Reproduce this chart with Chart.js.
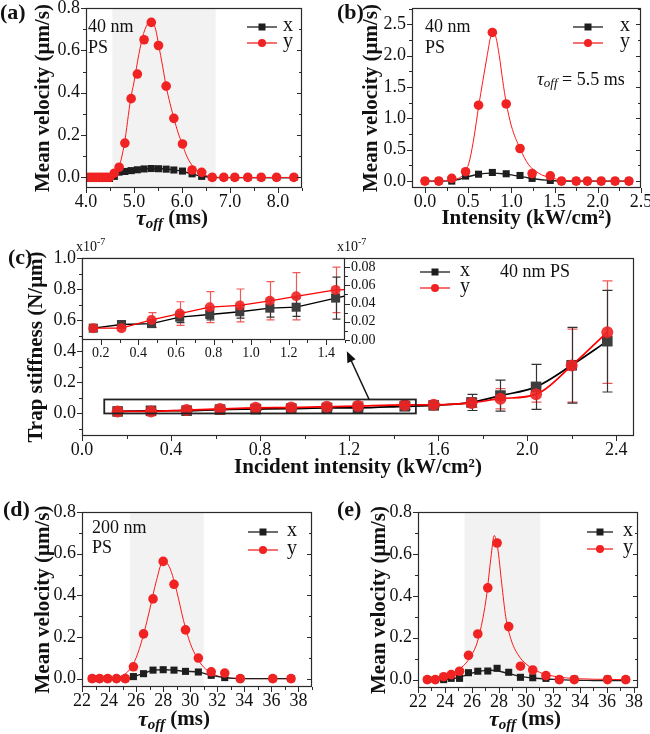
<!DOCTYPE html>
<html>
<head>
<meta charset="utf-8">
<title>Mean velocity and trap stiffness</title>
<script src="https://cdn.jsdelivr.net/npm/chart.js@4.4.1/dist/chart.umd.min.js"></script>
<style>
  html, body { margin: 0; padding: 0; background: #fff; }
  #fig { position: relative; width: 650px; height: 734px; overflow: hidden; background: #fff; }
  #fig canvas { position: absolute; }
</style>
</head>
<body>
<div id="fig">
  <canvas id="cA" width="325" height="232" style="left:0;top:0"></canvas>
  <canvas id="cB" width="325" height="232" style="left:325px;top:0"></canvas>
  <canvas id="cC" width="650" height="244" style="left:0;top:236px"></canvas>
  <canvas id="cI" width="350" height="137" style="left:40px;top:232px"></canvas>
  <canvas id="cD" width="325" height="239" style="left:0;top:495px"></canvas>
  <canvas id="cE" width="325" height="239" style="left:325px;top:495px"></canvas>
</div>
<script>
const SERIF = '"Liberation Serif", "Times New Roman", serif';
const font = (size, style) => (style ? style + ' ' : '') + size + 'px ' + SERIF;

const RED = 'rgb(240, 34, 34)';
const RED_FIT = 'rgb(255, 24, 24)';
const BLK = '#1e1e1e';
const AXIS = '#2a2a2a';
const BAND = '#f2f2f2';
const seriesNames = ['x', 'y'];

// (a) 40 nm PS, mean velocity vs tau_off
const aTau = [4.00, 4.07, 4.14, 4.21, 4.28, 4.35, 4.42, 4.49, 4.59, 4.69, 4.81, 4.94, 5.07, 5.21, 5.36, 5.51, 5.67, 5.83, 6.01, 6.21, 6.41, 6.63, 6.87, 7.10, 7.37, 7.65, 7.97, 8.33];
const aVx = [-0.005, -0.005, -0.005, -0.005, -0.005, -0.005, -0.005, -0.005, 0.005, 0.025, 0.028, 0.032, 0.036, 0.040, 0.042, 0.041, 0.039, 0.035, 0.030, 0.017, 0.005, 0, 0, 0, 0, 0, 0, 0];
const aVy = [0, 0, 0, 0, 0, 0, 0, 0, 0.020, 0.048, 0.162, 0.372, 0.488, 0.650, 0.732, 0.623, 0.431, 0.279, 0.158, 0.035, 0.024, 0, 0, 0, 0, 0, 0, 0];
const aFitXTau = [4.00, 4.50, 4.57, 4.65, 4.75, 4.90, 5.10, 5.30, 5.50, 5.70, 5.90, 6.10, 6.30, 6.50, 6.70, 8.33];
const aFitX = [-0.005, -0.005, 0, 0.012, 0.022, 0.030, 0.037, 0.041, 0.042, 0.039, 0.033, 0.023, 0.011, 0.003, -0.001, -0.002];
const aFitYTau = [4.00, 4.50, 4.60, 4.69, 4.80, 4.93, 5.00, 5.10, 5.20, 5.30, 5.36, 5.45, 5.51, 5.60, 5.67, 5.75, 5.83, 5.92, 6.01, 6.10, 6.20, 6.30, 6.45, 6.60, 6.80, 8.33];
const aFitY = [0, 0.001, 0.015, 0.050, 0.160, 0.370, 0.450, 0.580, 0.680, 0.730, 0.737, 0.700, 0.630, 0.520, 0.430, 0.350, 0.280, 0.210, 0.155, 0.100, 0.060, 0.035, 0.013, 0.004, 0, 0];
const aBand = [4.55, 6.70];
const aXTicks = [4, 5, 6, 7, 8];
const aYTicks = [0, 0.2, 0.4, 0.6, 0.8];

// (b) 40 nm PS, mean velocity vs intensity
const bInt = [0.00, 0.16, 0.31, 0.47, 0.62, 0.78, 0.94, 1.10, 1.24, 1.45, 1.58, 1.75, 1.88, 2.04, 2.20, 2.36];
const bVx = [0, 0, 0, 0.080, 0.110, 0.138, 0.117, 0.090, 0.043, 0.010, 0, 0, 0, 0, 0, 0];
const bVy = [0, 0, 0.043, 0.150, 1.210, 2.370, 1.230, 0.520, 0.120, 0.085, 0, 0, 0, 0, 0, 0];
const bFitXInt = [0.00, 0.30, 0.40, 0.50, 0.60, 0.70, 0.80, 0.90, 1.00, 1.10, 1.20, 1.30, 1.40, 1.50, 1.60, 2.36];
const bFitX = [0, 0.003, 0.030, 0.070, 0.105, 0.123, 0.127, 0.118, 0.100, 0.075, 0.050, 0.030, 0.015, 0.005, 0, 0];
const bFitYInt = [0.00, 0.20, 0.35, 0.42, 0.47, 0.52, 0.57, 0.62, 0.67, 0.72, 0.76, 0.79, 0.82, 0.86, 0.90, 0.94, 1.00, 1.10, 1.20, 1.27, 1.35, 1.45, 1.60, 1.80, 2.36];
const bFitY = [0, 0.003, 0.030, 0.070, 0.150, 0.350, 0.720, 1.180, 1.600, 2.000, 2.300, 2.380, 2.300, 2.000, 1.600, 1.250, 0.880, 0.520, 0.260, 0.170, 0.100, 0.055, 0.015, 0.002, 0];
const bXTicks = [0, 0.5, 1.0, 1.5, 2.0, 2.5];
const bYTicks = [0, 0.5, 1.0, 1.5, 2.0, 2.5];

// (c) trap stiffness (x10^-7 N/um) vs incident intensity
const cInt = [0.16, 0.31, 0.47, 0.62, 0.78, 0.94, 1.10, 1.24, 1.45, 1.58, 1.75, 1.88, 2.04, 2.20, 2.36];
const cKx = [0.013, 0.017, 0.018, 0.025, 0.028, 0.031, 0.035, 0.036, 0.046, 0.052, 0.071, 0.115, 0.171, 0.310, 0.465];
const cKy = [0.013, 0.013, 0.022, 0.029, 0.036, 0.038, 0.043, 0.048, 0.055, 0.056, 0.068, 0.095, 0.123, 0.308, 0.523];
const cErrX = [0.002, 0.003, 0.004, 0.006, 0.006, 0.007, 0.010, 0.010, 0.023, 0.010, 0.052, 0.100, 0.145, 0.244, 0.327];
const cErrY = [0.002, 0.003, 0.008, 0.013, 0.017, 0.018, 0.021, 0.026, 0.025, 0.010, 0.027, 0.065, 0.050, 0.235, 0.330];
const cXTicks = [0, 0.4, 0.8, 1.2, 1.6, 2.0, 2.4];
const cYTicks = [0, 0.2, 0.4, 0.6, 0.8, 1.0];
const insetXTicks = [0.2, 0.4, 0.6, 0.8, 1.0, 1.2, 1.4];
const insetYTicks = [0, 0.02, 0.04, 0.06, 0.08];

// (d) 200 nm PS, mean velocity vs tau_off
const dTau = [22.75, 23.30, 23.90, 24.55, 25.20, 25.80, 26.55, 27.25, 28.00, 28.80, 29.65, 30.60, 31.55, 32.55, 33.70, 36.10, 37.45];
const dVx = [0, 0, 0, 0, 0, 0.010, 0.024, 0.041, 0.043, 0.041, 0.035, 0.032, 0.016, 0.005, 0, 0, 0];
const dVy = [0, 0, 0, 0, 0, 0.057, 0.215, 0.383, 0.563, 0.453, 0.234, 0.099, 0.033, 0.027, 0, 0, 0];
const dFitYTau = [22.75, 24.00, 24.50, 25.00, 25.50, 26.00, 26.50, 27.00, 27.50, 28.00, 28.50, 29.00, 29.50, 30.00, 30.50, 31.00, 31.50, 32.00, 32.50, 33.50, 35.00, 37.45];
const dFitY = [0, 0.001, 0.004, 0.015, 0.042, 0.100, 0.200, 0.330, 0.470, 0.565, 0.530, 0.420, 0.280, 0.170, 0.100, 0.055, 0.030, 0.014, 0.006, 0.001, 0, 0];
const dBand = [25.55, 31.00];

// (e) mean velocity vs tau_off
const eTau = [22.69, 23.28, 23.90, 24.46, 25.08, 25.74, 26.43, 27.17, 27.86, 28.72, 29.59, 30.50, 31.48, 32.47, 33.58, 36.04, 37.39];
const eVx = [0, 0, 0, 0.006, 0.006, 0.033, 0.040, 0.041, 0.054, 0.035, 0.011, 0.009, 0.006, 0, 0.002, 0.002, 0];
const eVy = [0, 0, 0.014, 0.024, 0.040, 0.116, 0.218, 0.438, 0.652, 0.253, 0.064, 0.046, 0.019, 0, 0, 0, 0];
const eFitXTau = [22.69, 23.50, 24.50, 25.00, 25.50, 26.00, 26.50, 27.00, 27.40, 27.90, 28.40, 28.80, 29.30, 29.80, 30.50, 31.50, 32.50, 33.50, 35.00, 37.39];
const eFitX = [0, -0.001, 0.004, 0.010, 0.020, 0.031, 0.039, 0.044, 0.045, 0.042, 0.034, 0.027, 0.019, 0.013, 0.008, 0.003, 0, -0.003, -0.004, -0.005];
const eFitYTau = [22.69, 23.00, 23.50, 24.00, 24.50, 25.00, 25.50, 26.00, 26.40, 26.80, 27.10, 27.40, 27.65, 27.90, 28.20, 28.50, 28.90, 29.40, 30.00, 31.00, 32.00, 33.00, 35.00, 37.39];
const eFitY = [0.003, 0.005, 0.010, 0.018, 0.030, 0.048, 0.075, 0.120, 0.180, 0.290, 0.410, 0.580, 0.688, 0.630, 0.460, 0.300, 0.190, 0.120, 0.075, 0.035, 0.017, 0.008, 0.002, 0];
const eBand = [25.45, 31.05];
const tauTicks = [22, 24, 26, 28, 30, 32, 34, 36, 38];
const velTicks = [0, 0.2, 0.4, 0.6, 0.8];

Chart.defaults.font.family = SERIF;
Chart.defaults.color = '#111';

const TICK_FS = 18;
const TITLE_FS = 21;

const xy = (xs, ys) => xs.map((x, i) => ({ x: x, y: ys[i] }));

// major ticks in range plus half-step minors
function tickSet(majors, lo, hi) {
  const step = majors[1] - majors[0];
  const minor = [];
  for (let v = majors[0] - step / 2; v <= hi + 1e-9; v += step) {
    if (v >= lo - 1e-9) minor.push(v);
  }
  return { major: majors.filter(v => v >= lo - 1e-9 && v <= hi + 1e-9), minor: minor };
}

function drawRich(ctx, parts, x, y, align) {
  let w = 0;
  parts.forEach(p => { ctx.font = p[1]; w += ctx.measureText(p[0]).width; });
  let cx = align === 'center' ? x - w / 2 : (align === 'right' ? x - w : x);
  ctx.textAlign = 'left';
  ctx.textBaseline = 'middle';
  parts.forEach(p => {
    ctx.font = p[1];
    ctx.fillText(p[0], cx, y + (p[2] || 0));
    cx += ctx.measureText(p[0]).width;
  });
}

const decor = {
  id: 'decor',
  beforeDatasetsDraw(chart, args, o) {
    const { ctx, chartArea: ca, scales: { x, y } } = chart;
    ctx.save();
    if (o.fill) {
      ctx.fillStyle = o.fill;
      ctx.fillRect(ca.left, ca.top, ca.width, ca.height);
    }
    if (o.band) {
      const x0 = x.getPixelForValue(o.band[0]);
      const x1 = x.getPixelForValue(o.band[1]);
      ctx.fillStyle = BAND;
      ctx.fillRect(x0, ca.top, x1 - x0, ca.height);
    }
    ctx.beginPath();
    ctx.rect(ca.left, ca.top, ca.width, ca.height);
    ctx.clip();
    chart.data.datasets.forEach((ds, i) => {
      if (!ds.errors) return;
      const meta = chart.getDatasetMeta(i);
      ctx.strokeStyle = ds.errColor;
      ctx.lineWidth = 1.2;
      meta.data.forEach((pt, j) => {
        const v = ds.data[j].y, e = ds.errors[j];
        const yt = y.getPixelForValue(v + e), yb = y.getPixelForValue(v - e);
        const px = Math.round(pt.x) + 0.5;
        ctx.beginPath();
        ctx.moveTo(px, yt); ctx.lineTo(px, yb);
        ctx.moveTo(px - o.cap, yt); ctx.lineTo(px + o.cap, yt);
        ctx.moveTo(px - o.cap, yb); ctx.lineTo(px + o.cap, yb);
        ctx.stroke();
      });
    });
    ctx.restore();
  },
  afterDatasetsDraw(chart, args, o) {
    const { ctx, chartArea: ca, scales: { x, y } } = chart;
    ctx.save();
    ctx.strokeStyle = AXIS;
    ctx.lineWidth = 1;
    const tx = tickSet(o.xTicks, x.min, x.max);
    const ty = tickSet(o.yTicks, y.min, y.max);
    const hMarks = (vals, y0, len) => vals.forEach(v => {
      const p = Math.round(x.getPixelForValue(v)) + 0.5;
      ctx.beginPath(); ctx.moveTo(p, y0); ctx.lineTo(p, y0 + len); ctx.stroke();
    });
    const vMarks = (vals, x0, len) => vals.forEach(v => {
      const p = Math.round(y.getPixelForValue(v)) + 0.5;
      ctx.beginPath(); ctx.moveTo(x0, p); ctx.lineTo(x0 + len, p); ctx.stroke();
    });
    hMarks(tx.major, ca.bottom, 5); hMarks(tx.minor, ca.bottom, 3);
    if (o.ySide === 'right') { vMarks(ty.major, ca.right, 5); vMarks(ty.minor, ca.right, 3); }
    else { vMarks(ty.major, ca.left, -5); vMarks(ty.minor, ca.left, -3); }
    if (o.rightIn) { vMarks(ty.major, ca.right, -5); vMarks(ty.minor, ca.right, -3); }
    ctx.lineWidth = 1.2;
    ctx.strokeRect(ca.left + 0.5, ca.top + 0.5, ca.width - 1, ca.height - 1);

    if (o.box) {
      const b = o.box;
      const x0 = x.getPixelForValue(b[0]), x1 = x.getPixelForValue(b[1]);
      const y0 = y.getPixelForValue(b[2]), y1 = y.getPixelForValue(b[3]);
      ctx.lineWidth = 1.8;
      ctx.strokeStyle = '#222';
      ctx.strokeRect(x0, y1, x1 - x0, y0 - y1);
    }
    if (o.arrow) {
      const a = o.arrow;
      const fx = x.getPixelForValue(a[0]), fy = y.getPixelForValue(a[1]);
      const ex = x.getPixelForValue(a[2]), ey = y.getPixelForValue(a[3]);
      const ang = Math.atan2(ey - fy, ex - fx);
      ctx.strokeStyle = '#111';
      ctx.fillStyle = '#111';
      ctx.lineWidth = 1.5;
      ctx.beginPath(); ctx.moveTo(fx, fy);
      ctx.lineTo(ex - 8 * Math.cos(ang), ey - 8 * Math.sin(ang)); ctx.stroke();
      ctx.beginPath();
      ctx.moveTo(ex, ey);
      ctx.lineTo(ex - 11 * Math.cos(ang) + 4.5 * Math.sin(ang), ey - 11 * Math.sin(ang) - 4.5 * Math.cos(ang));
      ctx.lineTo(ex - 11 * Math.cos(ang) - 4.5 * Math.sin(ang), ey - 11 * Math.sin(ang) + 4.5 * Math.cos(ang));
      ctx.closePath(); ctx.fill();
    }
    if (o.legend) {
      const L = o.legend;
      L.items.forEach((it, k) => {
        const yy = L.rows[k];
        ctx.strokeStyle = it.color;
        ctx.lineWidth = 1.3;
        ctx.beginPath(); ctx.moveTo(L.x0, yy); ctx.lineTo(L.x1, yy); ctx.stroke();
        ctx.fillStyle = it.color;
        const mx = (L.x0 + L.x1) / 2;
        if (it.shape === 'rect') ctx.fillRect(mx - it.size / 2, yy - it.size / 2, it.size, it.size);
        else { ctx.beginPath(); ctx.arc(mx, yy, it.size / 2, 0, Math.PI * 2); ctx.fill(); }
        ctx.fillStyle = '#111';
        ctx.font = font(20);
        ctx.textAlign = 'left';
        ctx.textBaseline = 'middle';
        ctx.fillText(it.label, L.tx, yy - 1);
      });
    }
    ctx.restore();
  },
  afterDraw(chart, args, o) {
    if (!o.notes) return;
    const ctx = chart.ctx;
    ctx.save();
    ctx.fillStyle = '#111';
    o.notes.forEach(n => drawRich(ctx, n.parts, n.x, n.y, n.align || 'left'));
    ctx.restore();
  }
};

function axis(o) {
  return {
    type: 'linear',
    position: o.position,
    min: o.min,
    max: o.max,
    grid: { display: false, drawTicks: false, tickLength: 0 },
    border: { display: false },
    ticks: {
      font: { family: SERIF, size: o.fs || TICK_FS },
      color: '#111',
      padding: o.pad,
      autoSkip: false,
      maxRotation: 0,
      minRotation: 0,
      callback: v => Number(v).toFixed(o.dec)
    },
    afterBuildTicks: s => { s.ticks = o.ticks.map(v => ({ value: v })); },
    afterFit: s => {
      if (s.isHorizontal()) s.height = o.size; else s.width = o.size;
      s.paddingLeft = 0; s.paddingRight = 0; s.paddingTop = 0; s.paddingBottom = 0;
    },
    title: o.title
      ? { display: true, text: o.title, color: '#111', padding: o.tpad, font: { family: SERIF, size: TITLE_FS, weight: 'bold' } }
      : { display: false }
  };
}

const tauTitle = [['\u03c4', font(22, 'bold italic')], ['off', font(15, 'bold italic'), 5], [' (ms)', font(TITLE_FS, 'bold')]];
const legendItems = (x0, x1, tx, rows) => ({
  x0: x0, x1: x1, tx: tx, rows: rows,
  items: [
    { label: seriesNames[0], color: BLK, shape: 'rect', size: 7 },
    { label: seriesNames[1], color: RED, shape: 'circle', size: 8 }
  ]
});

function velocityPanel(id, p) {
  const datasets = [
    { label: seriesNames[1], data: xy(p.t, p.vy), pointStyle: 'circle', pointRadius: 4.8, pointBorderWidth: 0,
      backgroundColor: RED, showLine: false, order: 0 },
    { label: seriesNames[0], data: xy(p.t, p.vx), pointStyle: 'rect', pointRadius: 5, pointBorderWidth: 0,
      backgroundColor: BLK, borderColor: BLK, borderWidth: 1.4, showLine: !p.fitX,
      cubicInterpolationMode: 'monotone', order: 1 },
    { label: 'y fit', data: xy(p.fitY[0], p.fitY[1]), showLine: true, pointRadius: 0,
      borderColor: RED_FIT, borderWidth: 1, cubicInterpolationMode: 'monotone', order: 2 }
  ];
  if (p.fitX) {
    datasets.push({ label: 'x fit', data: xy(p.fitX[0], p.fitX[1]), showLine: true, pointRadius: 0,
      borderColor: BLK, borderWidth: 1.4, cubicInterpolationMode: 'monotone', order: 3 });
  }
  return new Chart(document.getElementById(id), {
    type: 'scatter',
    data: { datasets: datasets },
    options: {
      responsive: false,
      animation: false,
      events: [],
      layout: { padding: p.layout },
      scales: {
        x: axis({ position: 'bottom', min: p.xr[0], max: p.xr[1], ticks: p.xTicks, dec: p.xDec, pad: 3,
                  size: p.xh, title: p.xTitle, tpad: p.xtpad }),
        y: axis({ position: 'left', min: p.yr[0], max: p.yr[1], ticks: p.yTicks, dec: 1, pad: 6,
                  size: p.yw, title: 'Mean velocity (\u03bcm/s)', tpad: p.ytpad })
      },
      plugins: {
        legend: { display: false },
        tooltip: { enabled: false },
        decor: { band: p.band, xTicks: p.xTicks, yTicks: p.yTicks, rightIn: true, legend: p.legend, notes: p.notes, cap: 0 }
      }
    },
    plugins: [decor]
  });
}

velocityPanel('cA', {
  t: aTau, vx: aVx, vy: aVy, fitX: [aFitXTau, aFitX], fitY: [aFitYTau, aFitY],
  xr: [4.0, 8.5], yr: [-0.05, 0.8], xTicks: aXTicks, yTicks: aYTicks, xDec: 1, band: aBand,
  layout: { left: 0, top: 8, right: 23, bottom: 0 }, yw: 86, xh: 44, ytpad: 31,
  legend: legendItems(247, 277, 283, [27, 43]),
  notes: [
    { x: 0, y: 13, parts: [['(a)', font(22, 'bold')]] },
    { x: 88, y: 27, parts: [['40 nm', font(18)]] },
    { x: 88, y: 48, parts: [['PS', font(18)]] },
    { x: 172, y: 219, align: 'center', parts: tauTitle }
  ]
});

velocityPanel('cB', {
  t: bInt, vx: bVx, vy: bVy, fitX: [bFitXInt, bFitX], fitY: [bFitYInt, bFitY],
  xr: [-0.15, 2.5], yr: [-0.11, 2.76], xTicks: bXTicks, yTicks: bYTicks, xDec: 1, band: null,
  layout: { left: 0, top: 8, right: 9, bottom: 0 }, yw: 87, xh: 44, ytpad: 34,
  xTitle: 'Intensity (kW/cm\u00b2)', xtpad: 1,
  legend: legendItems(248, 278, 295, [27, 43]),
  notes: [
    { x: 12, y: 13, parts: [['(b)', font(22, 'bold')]] },
    { x: 100, y: 27, parts: [['40 nm', font(18)]] },
    { x: 100, y: 48, parts: [['PS', font(18)]] },
    { x: 212, y: 80, parts: [['\u03c4', font(19, 'italic')], ['off', font(13, 'italic'), 4], [' = 5.5 ms', font(18)]] }
  ]
});

velocityPanel('cD', {
  t: dTau, vx: dVx, vy: dVy, fitX: null, fitY: [dFitYTau, dFitY],
  xr: [22, 39], yr: [-0.04, 0.8], xTicks: tauTicks, yTicks: velTicks, xDec: 0, band: dBand,
  layout: { left: 0, top: 17, right: 13, bottom: 0 }, yw: 82, xh: 47, ytpad: 31,
  legend: legendItems(248, 278, 287, [37, 55]),
  notes: [
    { x: 3, y: 15, parts: [['(d)', font(22, 'bold')]] },
    { x: 92, y: 33, parts: [['200 nm', font(18)]] },
    { x: 92, y: 53, parts: [['PS', font(18)]] },
    { x: 174, y: 225, align: 'center', parts: tauTitle }
  ]
});

velocityPanel('cE', {
  t: eTau, vx: eVx, vy: eVy, fitX: [eFitXTau, eFitX], fitY: [eFitYTau, eFitY],
  xr: [22, 38.3], yr: [-0.04, 0.8], xTicks: tauTicks, yTicks: velTicks, xDec: 0, band: eBand,
  layout: { left: 0, top: 17, right: 12, bottom: 0 }, yw: 93, xh: 46, ytpad: 42,
  legend: legendItems(262, 288, 298, [37, 54]),
  notes: [
    { x: 12, y: 15, parts: [['(e)', font(22, 'bold')]] },
    { x: 200, y: 225, align: 'center', parts: tauTitle }
  ]
});

// (c) main chart and inset share the same series
function stiffnessSets(rc, rs, lw, smooth) {
  return [
    { label: seriesNames[1], data: xy(cInt, cKy), errors: cErrY, errColor: 'rgba(238, 60, 60, 0.85)',
      pointStyle: 'circle', pointRadius: rc, pointBorderWidth: 0, backgroundColor: 'rgba(238, 36, 36, 0.9)',
      showLine: true, borderColor: 'rgb(255, 0, 0)', borderWidth: lw, cubicInterpolationMode: smooth ? 'monotone' : 'default', order: 0 },
    { label: seriesNames[0], data: xy(cInt, cKx), errors: cErrX, errColor: '#333',
      pointStyle: 'rect', pointRadius: rs, pointBorderWidth: 0, backgroundColor: '#3d3d3d',
      showLine: true, borderColor: '#000', borderWidth: lw, cubicInterpolationMode: smooth ? 'monotone' : 'default', order: 1 }
  ];
}

new Chart(document.getElementById('cC'), {
  type: 'scatter',
  data: { datasets: stiffnessSets(6, 7.5, 1.7, true) },
  options: {
    responsive: false,
    animation: false,
    events: [],
    layout: { padding: { left: 0, top: 22, right: 16, bottom: 0 } },
    scales: {
      x: axis({ position: 'bottom', min: 0, max: 2.48, ticks: cXTicks, dec: 1, pad: 3, size: 44,
                title: 'Incident intensity (kW/cm\u00b2)', tpad: 0 }),
      y: axis({ position: 'left', min: -0.145, max: 1.0, ticks: cYTicks, dec: 1, pad: 6, size: 82,
                title: 'Trap stiffness (N/\u03bcm)', tpad: 24 })
    },
    plugins: {
      legend: { display: false },
      tooltip: { enabled: false },
      decor: {
        xTicks: cXTicks, yTicks: cYTicks, rightIn: false, cap: 5,
        box: [0.1, 1.5, 0.0, 0.09],
        arrow: [1.29, 0.09, 1.19, 0.40],
        legend: legendItems(420, 450, 460, [36, 52]),
        notes: [
          { x: 8, y: 22, parts: [['(c)', font(22, 'bold')]] },
          { x: 76, y: 11, parts: [['x10', font(14)], ['-7', font(10), -5]] },
          { x: 500, y: 36, parts: [['40 nm PS', font(18)]] }
        ]
      }
    }
  },
  plugins: [decor]
});

new Chart(document.getElementById('cI'), {
  type: 'scatter',
  data: { datasets: stiffnessSets(5, 6.4, 1.3, false) },
  options: {
    responsive: false,
    animation: false,
    events: [],
    layout: { padding: { left: 42, top: 26, right: 0, bottom: 0 } },
    scales: {
      x: axis({ position: 'bottom', min: 0.1, max: 1.5, ticks: insetXTicks, dec: 1, pad: 5, size: 29, fs: 14 }),
      y: axis({ position: 'right', min: 0, max: 0.09, ticks: insetYTicks, dec: 2, pad: 6, size: 45, fs: 14 })
    },
    plugins: {
      legend: { display: false },
      tooltip: { enabled: false },
      decor: {
        fill: '#fff', xTicks: insetXTicks, yTicks: insetYTicks, ySide: 'right', rightIn: false, cap: 4,
        notes: [
          { x: 297, y: 15, parts: [['x10', font(14)], ['-7', font(10), -5]] }
        ]
      }
    }
  },
  plugins: [decor]
});
</script>
</body>
</html>
